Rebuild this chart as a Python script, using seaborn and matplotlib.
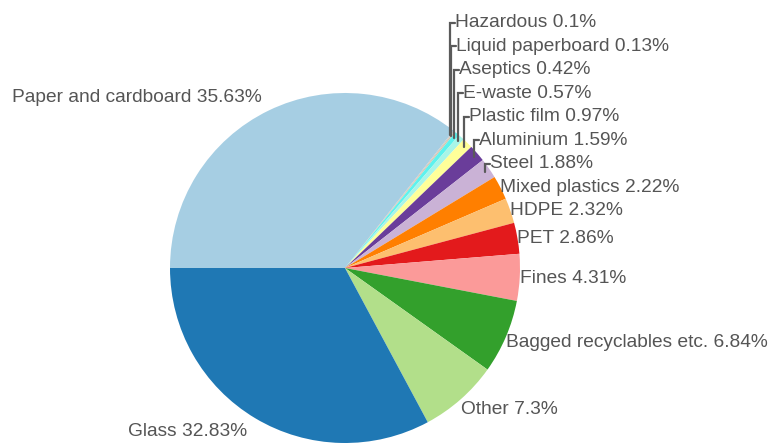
import numpy as np
import matplotlib
matplotlib.use("Agg")
import matplotlib.pyplot as plt
import seaborn as sns

categories = ["Paper and cardboard", "Hazardous", "Liquid paperboard", "Aseptics",
              "E-waste", "Plastic film", "Aluminium", "Steel", "Mixed plastics",
              "HDPE", "PET", "Fines", "Bagged recyclables etc.", "Other", "Glass"]
shares = [35.63, 0.1, 0.13, 0.42, 0.57, 0.97, 1.59, 1.88, 2.22, 2.32, 2.86,
          4.31, 6.84, 7.3, 32.83]

sns.set_theme(style="white")
plt.rcParams["font.family"] = ["Liberation Sans", "DejaVu Sans"]

paired = sns.color_palette("Paired", 12).as_hex()
colors = [paired[0], "#c9c9c9", "#d8c4ae", "#5ef2ee", "#a8f5e8", paired[10],
          paired[9], paired[8], paired[7], paired[6], paired[5], paired[4],
          paired[3], paired[2], paired[1]]

W, H = 770, 443
fig = plt.figure(figsize=(W / 100, H / 100), dpi=100)
ax = fig.add_axes([0, 0, 1, 1])

cx, cy, R = 345, 175, 175
start = 180
ax.pie(shares, colors=colors, startangle=start, counterclock=False,
       center=(cx, cy), radius=R, wedgeprops=dict(linewidth=0), frame=True)
ax.set_xlim(0, W)
ax.set_ylim(0, H)
ax.set_aspect("equal")
ax.axis("off")

total = sum(shares)
cum = np.cumsum([0] + shares[:-1])
mids = np.deg2rad(start - (cum + np.array(shares) / 2) / total * 360)
labels = [f"{c} {v:g}%" for c, v in zip(categories, shares)]

txt_color = "#555555"
fs = 13.8

# Right-side labels (cos > 0): stack upward to avoid overlap
right = [i for i in range(len(shares)) if np.cos(mids[i]) > 0]
nat = {}
for i in right:
    s = np.sin(mids[i])
    drop = 14 * min(s, 0)  # lower-half labels hang below the anchor
    nat[i] = (cx + R * np.cos(mids[i]), cy + R * s + drop)
order = sorted(right, key=lambda i: nat[i][1])
ypos = {}
gap = 23.5
prev = None
for i in order:
    y = nat[i][1]
    if prev is not None and y < prev + gap:
        y = prev + gap
    ypos[i] = y
    prev = y

for i in right:
    x0, y0 = nat[i]
    y = ypos[i]
    if y - y0 > 3:
        lx = x0 - 3.5
        ax.plot([lx, lx, lx + 5], [y0 - 4, y, y], color="#5a5a5a", lw=1.6,
                solid_joinstyle="miter", zorder=3)
        tx = lx + 5
    else:
        tx = x0
    ax.text(tx, y, labels[i], ha="left", va="center", fontsize=fs, color=txt_color)

# Left-side labels
for i in range(len(shares)):
    if np.cos(mids[i]) <= 0:
        x = cx + 190 * np.cos(mids[i])
        y = cy + 190 * np.sin(mids[i])
        ax.text(x, y, labels[i], ha="right", va="center", fontsize=fs, color=txt_color)

fig.savefig("out.png", dpi=100, facecolor="white")
